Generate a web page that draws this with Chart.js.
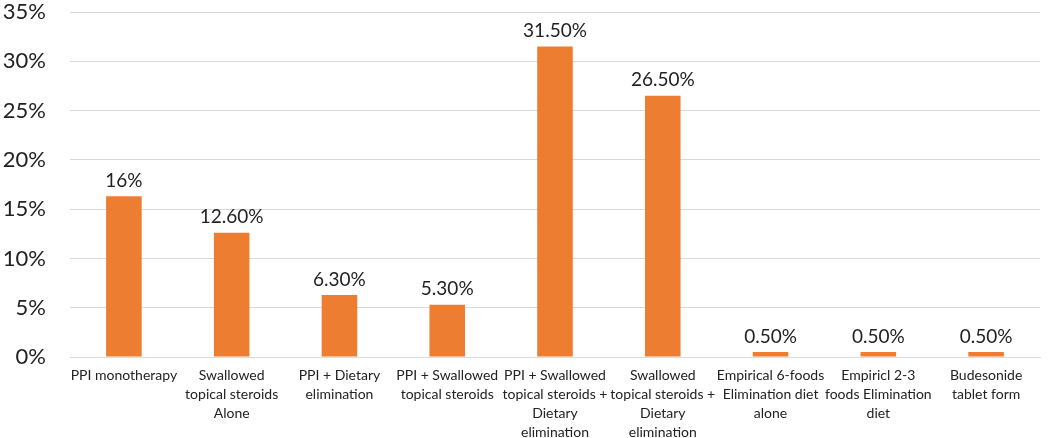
<!DOCTYPE html>
<html lang="en">
<head>
    <meta charset="UTF-8">
    <title>Treatment distribution</title>
    <script src="https://cdn.jsdelivr.net/npm/chart.js"></script>
    <style>
        body {
            margin: 0;
            background: #fff;
        }
        .wrap {
            width: 1052px;
            height: 438px;
        }
    </style>
</head>
<body>
    <div class="wrap"><canvas id="myChart"></canvas></div>

    <script>
        // Categories (multi-line labels as in the original)
        const categories = [
            ['PPI monotherapy'],
            ['Swallowed', 'topical steroids', 'Alone'],
            ['PPI + Dietary', 'elimination'],
            ['PPI + Swallowed', 'topical steroids'],
            ['PPI + Swallowed', 'topical steroids +', 'Dietary', 'elimination'],
            ['Swallowed', 'topical steroids +', 'Dietary', 'elimination'],
            ['Empirical 6-foods', 'Elimination diet', 'alone'],
            ['Empiricl 2-3', 'foods Elimination', 'diet'],
            ['Budesonide', 'tablet form']
        ];
        // Bar heights in percent
        const values = [16.3, 12.6, 6.3, 5.3, 31.5, 26.5, 0.5, 0.5, 0.5];
        // Texts written above the bars
        const valueLabels = ['16%', '12.60%', '6.30%', '5.30%', '31.50%', '26.50%', '0.50%', '0.50%', '0.50%'];
        // Y axis ticks
        const yTicks = [0, 5, 10, 15, 20, 25, 30, 35];

        const fontFamily = 'Lato, "Open Sans", sans-serif';

        // Small plugin: values above bars
        const barLabels = {
            id: 'barLabels',
            afterDatasetsDraw(chart) {
                const ctx = chart.ctx;
                const meta = chart.getDatasetMeta(0);
                ctx.save();
                ctx.font = '19px ' + fontFamily;
                ctx.fillStyle = '#222';
                ctx.textAlign = 'center';
                ctx.textBaseline = 'bottom';
                meta.data.forEach((bar, i) => {
                    ctx.fillText(valueLabels[i], bar.x, bar.y - 6);
                });
                ctx.restore();
            }
        };

        const ctx = document.getElementById('myChart').getContext('2d');
        const chart = new Chart(ctx, {
            type: 'bar',
            data: {
                labels: categories,
                datasets: [{
                    data: values,
                    backgroundColor: '#ED7D31',
                    categoryPercentage: 1,
                    barPercentage: 0.33
                }]
            },
            plugins: [barLabels],
            options: {
                responsive: true,
                maintainAspectRatio: false,
                animation: false,
                layout: {
                    padding: { top: 12, right: 12, left: 0, bottom: 0 }
                },
                plugins: {
                    legend: { display: false },
                    tooltip: { enabled: false }
                },
                scales: {
                    x: {
                        grid: { display: false, drawTicks: false },
                        border: { color: '#d9d9d9' },
                        ticks: {
                            color: '#222',
                            font: { family: fontFamily, size: 14, lineHeight: 1.36 },
                            maxRotation: 0,
                            autoSkip: false,
                            padding: 9
                        },
                        afterFit(scale) {
                            scale.height = 81;
                            scale.paddingLeft = 0;
                            scale.paddingRight = 0;
                        }
                    },
                    y: {
                        min: 0,
                        max: 35,
                        afterBuildTicks(scale) {
                            scale.ticks = yTicks.map(v => ({ value: v }));
                        },
                        grid: { color: '#d9d9d9', drawTicks: false },
                        border: { display: false },
                        ticks: {
                            color: '#222',
                            font: { family: fontFamily, size: 22 },
                            padding: 24,
                            callback: v => v + '%'
                        },
                        afterFit(scale) {
                            scale.width = 70;
                            scale.paddingTop = 0;
                            scale.paddingBottom = 0;
                        }
                    }
                }
            }
        });
    </script>
</body>
</html>
